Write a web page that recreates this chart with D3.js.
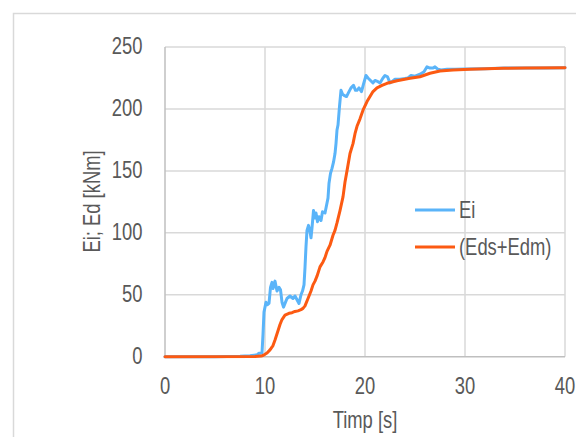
<!DOCTYPE html>
<html><head><meta charset="utf-8">
<script src="https://cdn.jsdelivr.net/npm/d3@7"></script>
<style>html,body{margin:0;padding:0;background:#fff;overflow:hidden}</style>
</head><body>
<svg id="chart" width="576" height="437"></svg>
<script>
// ---- data ----
const eiTime = [0,5,7.5,8.5,9.2,9.4,9.7,9.8,9.9,10.0,10.1,10.25,10.4,10.55,10.7,10.8,11.0,11.2,11.4,11.55,11.7,11.85,12.0,12.2,12.5,12.8,13.0,13.2,13.4,13.6,13.75,13.9,14.0,14.1,14.2,14.35,14.5,14.6,14.7,14.85,15.0,15.1,15.25,15.4,15.6,15.75,16.0,16.15,16.3,16.4,16.55,16.7,16.85,17.0,17.1,17.2,17.3,17.45,17.6,17.75,17.9,18.15,18.4,18.6,18.85,19.05,19.2,19.4,19.65,19.85,20.1,20.3,20.55,20.8,21.0,21.3,21.5,21.8,22.0,22.25,22.5,22.7,23.0,23.5,24.0,24.3,24.6,25.0,25.5,25.9,26.2,26.5,26.8,27.0,27.3,27.6,28.2,29,30,32,34,36,38,40];
const eiValue = [0,0,0.3,0.8,1.5,2.8,3,18,36,40,44,42,43,56,60,55,61,53,56,54,44,40,43,47,49,47,49,46,43,50,53,58,72,89,102,106,101,96,104,118,112,116,109,113,110,117,116,122,128,140,148,152,157,164,172,183,187,202,215,212,211,210,214,217,219,215,215,217,214,220,227,225,223,221,223,222,221,225,227,226,221,222,224,224,224.5,225,227,226.5,228,230,234,233,233,234,232,231.5,232,232,232.3,232.5,233,233,233,233.2];
const edTime = [0,9,9.6,9.8,10.2,10.5,10.8,11.0,11.3,11.5,11.7,12.0,12.4,12.7,13.0,13.3,13.6,13.8,14.0,14.3,14.6,14.8,15.0,15.2,15.5,15.8,16.0,16.2,16.5,16.8,17.0,17.2,17.5,17.8,18.0,18.2,18.5,18.8,19.0,19.2,19.5,19.8,20.2,20.5,20.8,21.2,21.7,22.2,23.2,24.5,25.5,26.5,27.5,28.8,30.5,33.8,36,40];
const edValue = [0,0.2,0.5,1,3,5.5,9,13.5,21,26,30,33.5,35,35.5,36.5,37,38,39,41,47,53,58,61,65,72.5,76.5,80,85,90,98,102,108,118,129,141,150,164,172,180,186,192,199,206,210,214,217,219,220.7,222.8,224.7,226,228.8,230.6,231.4,232,232.8,233,233.3];
const seriesNames = ["Ei", "(Eds+Edm)"];
const xTicks = [0,10,20,30,40];
const yTicks = [0,50,100,150,200,250];
const xTitle = "Timp [s]";
const yTitle = "Ei; Ed [kNm]";

// ---- styles ----
const colors = ["#5ab4f9", "#fc5a12"];
const textColor = "#595959";
const gridColor = "#d9d9d9";
const axisColor = "#bfbfbf";
const fontSize = 23;
const family = "'Liberation Sans', Arial, sans-serif";
const sx = 0.8;

const svg = d3.select("#chart");

function label(parent, x, y, txt, anchor, rotate){
  const g = parent.append("g").attr("transform", `translate(${x},${y}) rotate(${rotate||0}) scale(${sx},1)`);
  g.append("text").attr("text-anchor", anchor).attr("dominant-baseline","central")
    .attr("font-family", family).attr("font-size", fontSize).attr("fill", textColor).text(txt);
  return g;
}

// outer chart border
svg.append("rect").attr("x", 13.5).attr("y", 13.5).attr("width", 600).attr("height", 500)
  .attr("fill", "none").attr("stroke", gridColor).attr("stroke-width", 1.5);

const x = d3.scaleLinear().domain([0, 40]).range([165, 565]);
const y = d3.scaleLinear().domain([0, 250]).range([356.7, 47]);

// gridlines
svg.append("g").selectAll("line").data(yTicks.filter(d => d > 0)).join("line")
  .attr("x1", x(0)).attr("x2", x(40)).attr("y1", d => y(d)).attr("y2", d => y(d))
  .attr("stroke", gridColor).attr("stroke-width", 1.5);
svg.append("g").selectAll("line").data(xTicks.filter(d => d > 0)).join("line")
  .attr("x1", d => x(d)).attr("x2", d => x(d)).attr("y1", y(0)).attr("y2", y(250))
  .attr("stroke", gridColor).attr("stroke-width", 1.5);

// axis lines
svg.append("line").attr("x1", x(0)).attr("x2", x(0)).attr("y1", y(0)).attr("y2", y(250))
  .attr("stroke", axisColor).attr("stroke-width", 1.5);
svg.append("line").attr("x1", x(0)).attr("x2", x(40)).attr("y1", y(0)).attr("y2", y(0))
  .attr("stroke", axisColor).attr("stroke-width", 1.5);

// tick labels
yTicks.forEach(t => label(svg, 142.5, y(t) - 1, String(t), "end"));
xTicks.forEach(t => label(svg, x(t), 386, String(t), "middle"));

// axis titles
label(svg, 365, 420, xTitle, "middle");
label(svg, 92, 201.5, yTitle, "middle", -90);

// lines
const line = d3.line().x(d => x(d[0])).y(d => y(d[1])).curve(d3.curveLinear);
const eiData = eiTime.map((t, i) => [t, eiValue[i]]);
const edData = edTime.map((t, i) => [t, edValue[i]]);
[eiData, edData].forEach((data, i) => {
  svg.append("path").datum(data).attr("d", line).attr("fill", "none")
    .attr("stroke", colors[i]).attr("stroke-width", 3)
    .attr("stroke-linejoin", "round").attr("stroke-linecap", "round");
});

// legend
const legendY = [210, 247];
seriesNames.forEach((name, i) => {
  svg.append("line").attr("x1", 415).attr("x2", 455).attr("y1", legendY[i]).attr("y2", legendY[i])
    .attr("stroke", colors[i]).attr("stroke-width", 3);
  label(svg, 459, legendY[i], name, "start");
});
</script>
</body></html>
